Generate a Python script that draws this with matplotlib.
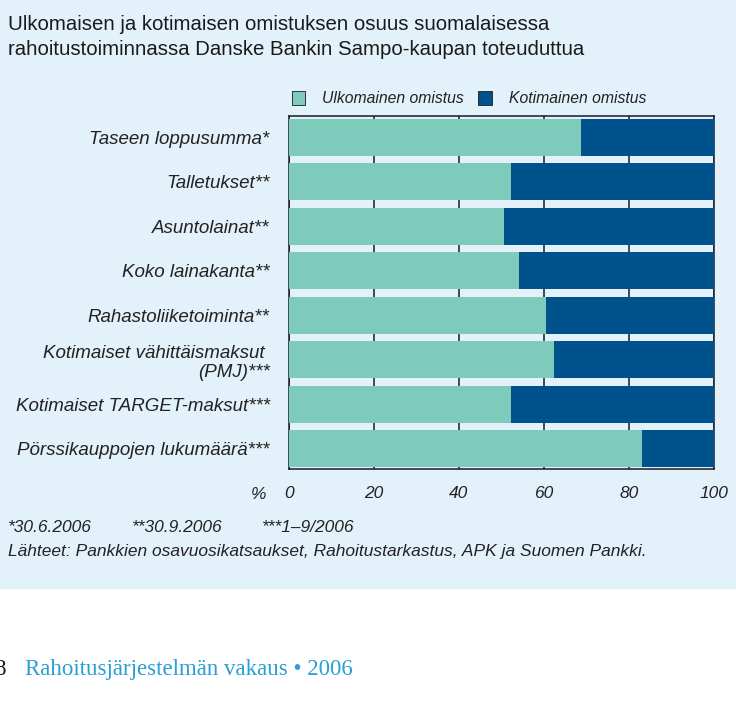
import matplotlib.pyplot as plt
from matplotlib.patches import Rectangle, Patch

categories = ["Taseen loppusumma*", "Talletukset**", "Asuntolainat**", "Koko lainakanta**",
              "Rahastoliiketoiminta**", "Kotimaiset vähittäismaksut \n(PMJ)***",
              "Kotimaiset TARGET-maksut***", "Pörssikauppojen lukumäärä***"]
foreign = [68.7, 52.2, 50.6, 54.1, 60.5, 62.4, 52.2, 83.1]
domestic = [100 - v for v in foreign]
xticks = [0, 20, 40, 60, 80, 100]

bg = "#E3F1FA"
teal = "#7FCBBB"
navy = "#00528C"
ink = "#222222"
sans = ["Liberation Sans", "DejaVu Sans"]
serif = ["Liberation Serif", "DejaVu Serif"]

fig = plt.figure(figsize=(7.36, 7.14), dpi=100)
fig.patches.append(Rectangle((0, 1 - 588 / 714), 1, 588 / 714, transform=fig.transFigure,
                             color=bg, zorder=-10))

ax = fig.add_axes([289 / 736, 1 - 469 / 714, 425 / 736, 353 / 714])
ax.set_facecolor(bg)
y = list(range(len(categories)))
ax.barh(y, foreign, height=0.83, color=teal, zorder=2)
ax.barh(y, domestic, left=foreign, height=0.83, color=navy, zorder=2)
ax.set_xlim(0, 100)
ax.set_ylim(7.46, -0.48)
ax.set_xticks(xticks)
ax.set_xticklabels([str(v) for v in xticks], fontstyle="italic", family=sans, fontsize=12.5,
                   color=ink)
ax.tick_params(axis="x", length=0, pad=12)
ax.set_yticks(y)
ax.set_yticklabels(categories, fontstyle="italic", family=sans, fontsize=13.5, color=ink)
ax.tick_params(axis="y", length=0, pad=14)
ax.grid(axis="x", color="#1a1a2a", linewidth=1.1, zorder=0)
ax.set_axisbelow(True)
for s in ax.spines.values():
    s.set_color("#1a1a2a")
    s.set_linewidth(1.1)
    s.set_zorder(1)

leg = ax.legend(handles=[Patch(facecolor=teal, edgecolor="#1a1a2a", linewidth=0.6, label="Ulkomainen omistus"),
                         Patch(facecolor=navy, edgecolor="#1a1a2a", linewidth=0.6, label="Kotimainen omistus")],
                loc="lower left", bbox_to_anchor=(-0.012, 1.005), ncol=2, frameon=False,
                prop={"family": sans, "style": "italic", "size": 11.3}, handlelength=0.85,
                handleheight=1.05, handletextpad=1.1, columnspacing=0.9, borderaxespad=0.1)
for t in leg.get_texts():
    t.set_color(ink)

fig.text(8 / 736, 1 - 30 / 714, "Ulkomaisen ja kotimaisen omistuksen osuus suomalaisessa",
         ha="left", va="baseline", family=sans, fontsize=14.7, color="#1a1a1a")
fig.text(8 / 736, 1 - 55 / 714, "rahoitustoiminnassa Danske Bankin Sampo-kaupan toteuduttua",
         ha="left", va="baseline", family=sans, fontsize=14.7, color="#1a1a1a")

fig.text(259 / 736, 1 - 499 / 714, "%", ha="center", va="baseline",
         fontstyle="italic", family=sans, fontsize=12.5, color=ink)

notes_y = 1 - 532 / 714
fig.text(8 / 736, notes_y, "*30.6.2006", family=sans, style="italic", fontsize=12.5, color=ink,
         va="baseline")
fig.text(132 / 736, notes_y, "**30.9.2006", family=sans, style="italic", fontsize=12.5, color=ink,
         va="baseline")
fig.text(262 / 736, notes_y, "***1–9/2006", family=sans, style="italic", fontsize=12.5, color=ink,
         va="baseline")
fig.text(8 / 736, 1 - 556 / 714,
         "Lähteet: Pankkien osavuosikatsaukset, Rahoitustarkastus, APK ja Suomen Pankki.",
         family=sans, style="italic", fontsize=12.5, color=ink, va="baseline")

fig.text(6 / 736, 1 - 675 / 714, "8", ha="right", va="baseline", family=serif,
         fontsize=16.5, color="#1a1a1a")
fig.text(25 / 736, 1 - 675 / 714, "Rahoitusjärjestelmän vakaus • 2006", va="baseline",
         family=serif, fontsize=16.5, color="#2A9FD6")

fig.savefig("out.png", dpi=100)
